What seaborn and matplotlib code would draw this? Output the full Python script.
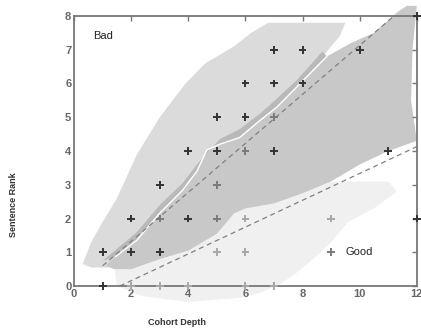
import numpy as np
import pandas as pd
import seaborn as sns
import matplotlib.pyplot as plt

# marker positions, by shade of the "+"
bad_x = [1, 1, 2, 2, 3, 3, 4, 4, 5, 5, 6, 6, 7, 7, 7, 8, 8, 10, 11, 12, 12]
bad_y = [0, 1, 1, 2, 1, 3, 2, 4, 4, 5, 5, 6, 4, 6, 7, 6, 7, 7, 4, 2, 8]
mid_x = [3, 5, 5, 6, 7, 9]
mid_y = [2, 2, 3, 4, 5, 1]
good_x = [2, 3, 4, 5, 6, 6, 6, 7, 9]
good_y = [0, 0, 0, 1, 1, 2, 0, 0, 2]

# region outlines (x, y)
bad_region = [(0.3, 0.65), (0.6, 1.3), (1.0, 1.9), (1.5, 2.6), (2.2, 3.9), (3.0, 5.0),
              (3.9, 6.0), (4.6, 6.6), (5.6, 7.1), (6.2, 7.5), (6.8, 7.8), (9.5, 7.8),
              (9.3, 7.4), (8.9, 7.0), (8.0, 6.0), (5.0, 3.5), (2.0, 1.0), (1.2, 0.55),
              (0.6, 0.55)]
core_region = [(1.1, 0.6), (1.45, 0.87), (2.2, 1.36), (3.0, 2.16), (3.8, 2.84), (4.3, 3.4),
               (4.65, 4.03), (5.1, 4.2), (5.8, 4.4), (6.5, 4.9), (7.1, 5.3), (7.8, 5.9),
               (8.85, 6.8), (9.7, 7.2), (10.5, 7.5), (11.3, 8.1), (11.65, 8.3), (12.0, 8.3),
               (11.85, 7.0), (11.8, 5.5), (12.0, 4.3), (11.0, 4.0), (10.0, 3.6), (9.0, 3.1),
               (8.0, 2.75), (7.0, 2.45), (6.0, 2.3), (5.6, 2.15), (5.0, 1.55), (4.0, 1.05),
               (3.0, 0.8), (2.0, 0.5), (1.4, 0.5)]
strip_top = [(1.0, 0.75), (1.5, 1.1), (2.2, 1.6), (3.0, 2.4), (3.8, 3.05), (4.3, 3.6),
             (5.1, 4.35), (5.8, 4.65), (6.5, 5.1), (7.1, 5.55), (7.8, 6.1), (8.7, 6.95)]
strip_bottom = [(8.85, 6.8), (7.8, 5.9), (7.1, 5.3), (6.5, 4.9), (5.8, 4.4), (5.1, 4.2),
                (4.65, 4.03), (4.3, 3.4), (3.8, 2.84), (3.0, 2.16), (2.2, 1.36), (1.45, 0.87)]
good_region = [(1.5, 0.0), (1.4, 0.6), (3.0, 1.2), (5.6, 2.4), (7.0, 3.08), (11.0, 3.1),
               (11.3, 2.8), (10.5, 2.3), (9.6, 1.9), (9.0, 1.3), (8.5, 0.9), (7.8, 0.4),
               (7.2, 0.05), (6.5, -0.2), (5.8, -0.35), (4.0, -0.47), (2.4, -0.3)]

# dashed separating lines
upper_x = [1.0, 11.2]
upper_y = [0.6, 8.0]
lower_x = [1.6, 12.0]
lower_y = [0.0, 4.13]

sns.set_style('white')
plt.rcParams['font.family'] = ['Liberation Sans', 'DejaVu Sans']

fig = plt.figure(figsize=(4.21, 3.33), dpi=100)
ax = fig.add_axes([0.176, 0.141, 0.814, 0.811])
ax.set_axisbelow(False)

def fill(pts, color, z):
    xs, ys = zip(*pts)
    ax.fill(xs, ys, color=color, lw=0, clip_on=False, zorder=z)

fill(good_region, '#f0f0f0', 1.0)
fill(bad_region, '#dbdbdb', 1.1)
fill(core_region, '#c8c8c8', 1.2)
fill(strip_top + strip_bottom, '#b9b9b9', 1.3)
sx, sy = zip(*strip_bottom)
ax.plot(sx, sy, color='white', lw=1.0, zorder=1.4)

lines = pd.DataFrame({
    'x': upper_x + lower_x,
    'y': upper_y + lower_y,
    'line': ['upper'] * 2 + ['lower'] * 2,
})
sns.lineplot(data=lines, x='x', y='y', units='line', estimator=None, color='#808080',
             lw=0.9, ax=ax, zorder=4)
for l in ax.lines[-2:]:
    l.set_dashes((4, 3))

pts = pd.DataFrame({
    'x': bad_x + mid_x + good_x,
    'y': bad_y + mid_y + good_y,
    'cls': ['bad'] * len(bad_x) + ['mid'] * len(mid_x) + ['good'] * len(good_x),
})
sns.scatterplot(data=pts, x='x', y='y', hue='cls', marker='+', s=32, linewidth=1.4,
                palette={'bad': '#333333', 'mid': '#7a7a7a', 'good': '#a8a8a8'},
                legend=False, ax=ax, zorder=5, clip_on=False)

ax.text(0.65, 7.4, 'Bad', fontsize=8, va='center', color='#222222', zorder=6)
ax.text(9.5, 1.02, 'Good', fontsize=8, va='center', color='#222222', zorder=6)

ax.set_xlim(0, 12)
ax.set_ylim(0, 8)
ax.set_xticks(range(0, 13, 2))
ax.set_yticks(range(0, 9))
ax.tick_params(direction='in', length=3.5, width=1.0, color='#777777', labelsize=8,
               labelcolor='#666666', top=True, right=True, pad=2)
for lab in ax.get_xticklabels() + ax.get_yticklabels():
    lab.set_fontweight('bold')
for sp in ax.spines.values():
    sp.set_color('#777777')
    sp.set_linewidth(1.3)
    sp.set_zorder(4.5)

ax.set_xlabel('Cohort Depth', fontsize=6.5, fontweight='bold', color='#333333')
ax.set_ylabel('Sentence Rank', fontsize=6.5, fontweight='bold', color='#333333')
ax.xaxis.set_label_coords(0.3, -0.12)
ax.yaxis.set_label_coords(-0.163, 0.3)

plt.savefig('out.png', dpi=100)
